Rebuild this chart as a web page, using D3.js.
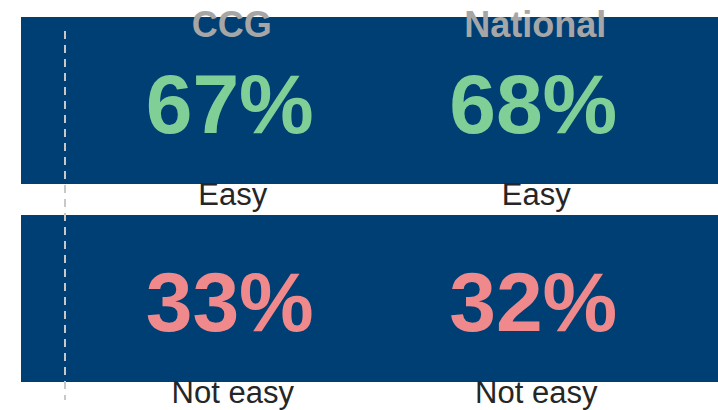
<!DOCTYPE html>
<html>
<head>
<meta charset="utf-8">
<script src="https://cdn.jsdelivr.net/npm/d3@7"></script>
<style>
  body { margin: 0; background: #fff; }
  svg { display: block; font-family: "Liberation Sans", Arial, sans-serif; }
</style>
</head>
<body>
<div id="chart"></div>
<script>
var columns = ["CCG", "National"];
var rows = ["Easy", "Not easy"];
var ccgValues = [67, 33];
var nationalValues = [68, 32];
var rowColours = ["#7fcf96", "#f0898b"];

var w = 718, h = 410;

var svg = d3.select("#chart")
    .append("svg")
    .attr("width", w)
    .attr("height", h);

var x = d3.scaleBand()
    .domain(columns)
    .range([80, 687]);

var y = d3.scaleBand()
    .domain(rows)
    .range([17, 382])
    .paddingInner(31 / 198);

var cells = [];
rows.forEach(function(r, i) {
    cells.push({ col: "CCG", row: r, value: ccgValues[i], colour: rowColours[i] });
    cells.push({ col: "National", row: r, value: nationalValues[i], colour: rowColours[i] });
});

// dark bands
svg.selectAll("rect.band")
    .data(rows)
    .enter()
    .append("rect")
    .attr("class", "band")
    .attr("x", 21)
    .attr("y", function(d) { return y(d); })
    .attr("width", w - 21)
    .attr("height", y.bandwidth())
    .attr("fill", "#003f74");

// dashed axis line
svg.append("line")
    .attr("x1", 65)
    .attr("x2", 65)
    .attr("y1", 31)
    .attr("y2", 400)
    .attr("stroke", "#c8c8c8")
    .attr("stroke-width", 2)
    .attr("stroke-dasharray", "8,6");

// column titles
svg.selectAll("text.title")
    .data(columns)
    .enter()
    .append("text")
    .attr("class", "title")
    .attr("x", function(d) { return x(d) + x.bandwidth() / 2; })
    .attr("y", y(rows[0]) + 20)
    .attr("text-anchor", "middle")
    .attr("font-size", 36)
    .attr("font-weight", "bold")
    .attr("fill", "#a6a6a6")
    .text(function(d) { return d; });

// big percentages
svg.selectAll("text.value")
    .data(cells)
    .enter()
    .append("text")
    .attr("class", "value")
    .attr("x", function(d) { return x(d.col) + x.bandwidth() / 2 - 2; })
    .attr("y", function(d) { return y(d.row) + 116; })
    .attr("text-anchor", "middle")
    .attr("font-size", 84)
    .attr("font-weight", "bold")
    .attr("fill", function(d) { return d.colour; })
    .text(function(d) { return d.value + "%"; });

// row labels under each band
svg.selectAll("text.label")
    .data(cells)
    .enter()
    .append("text")
    .attr("class", "label")
    .attr("x", function(d) { return x(d.col) + x.bandwidth() / 2 + 1; })
    .attr("y", function(d) { return y(d.row) + y.bandwidth() + 21; })
    .attr("text-anchor", "middle")
    .attr("font-size", 31)
    .attr("fill", "#262626")
    .text(function(d) { return d.row; });
</script>
</body>
</html>
